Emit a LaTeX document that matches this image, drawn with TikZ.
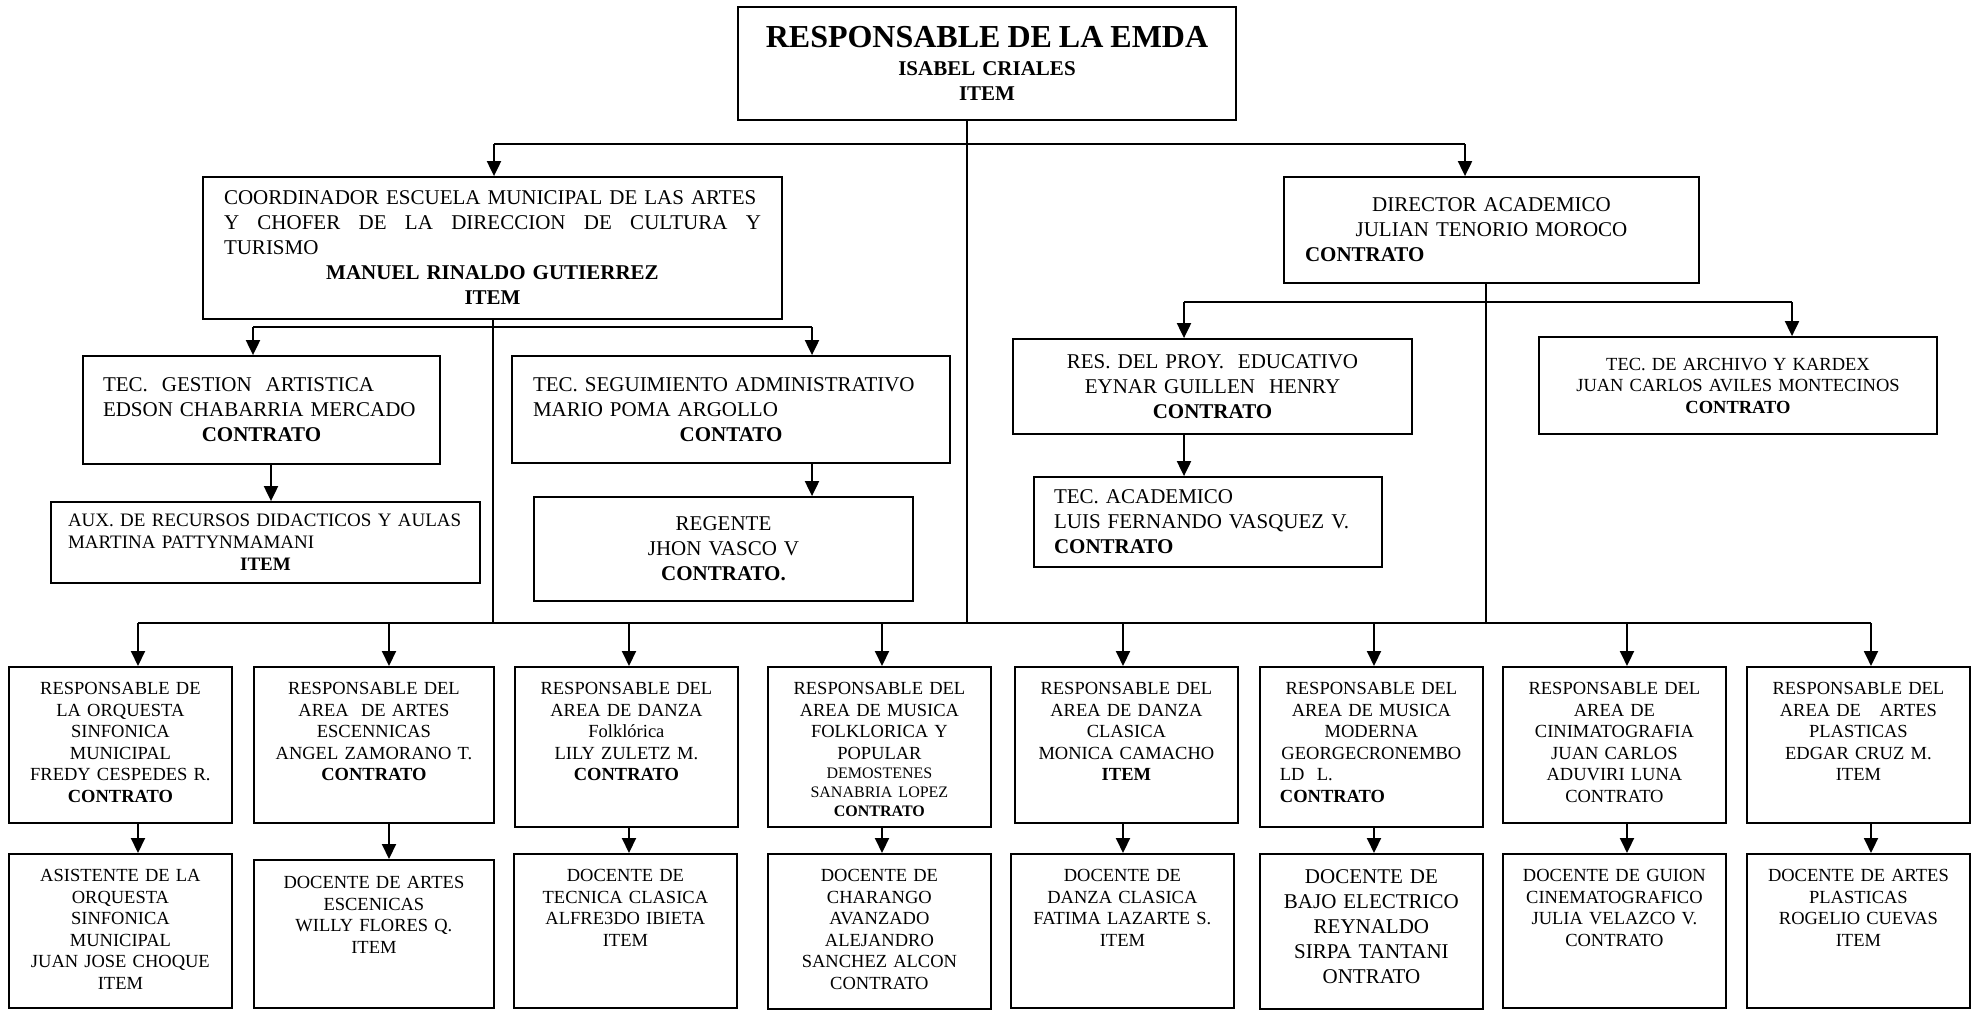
\documentclass[tikz,border=0pt]{standalone}
\usepackage{fontspec}
\setmainfont{Liberation Serif}
\usetikzlibrary{arrows.meta}

\begin{document}
\begin{tikzpicture}[x=1pt, y=-1pt]
    % --- STYLES ---
    \tikzset{
        orgBox/.style={draw, line width=1.8pt, align=center, inner xsep=0pt, inner ysep=0pt, font=\fontsize{21}{25}\selectfont},
        areaBox/.style={draw, line width=1.8pt, anchor=north west, align=center, inner xsep=6pt, inner ysep=0pt, text width=211pt, text height=28pt, text depth=128pt, font=\fontsize{18.5}{21.5}\selectfont},
        teachBox/.style={areaBox, text depth=126pt},
        trunkLine/.style={line width=1.4pt},
        busLine/.style={line width=2pt},
        arrowLine/.style={-{Triangle[width=14pt,length=15pt]}, line width=2pt}
    }
    \useasboundingbox (0,0) rectangle (1980,1010);

    % --- NODES ---

    % Head of the school
    \node[orgBox, text width=480pt, minimum width=498pt, minimum height=113pt, font=\fontsize{21}{25}\selectfont\bfseries] (emda) at (987,63.5) {{\fontsize{32}{36}\selectfont RESPONSABLE DE LA EMDA}\\[3pt] ISABEL CRIALES\\ ITEM};

    % Second level
    \node[orgBox, text width=537pt, minimum width=579pt, minimum height=142pt, align=left] (coord) at (492.5,248) {COORDINADOR ESCUELA MUNICIPAL DE LAS ARTES\\ \makebox[\linewidth][s]{Y\hfill CHOFER\hfill DE\hfill LA\hfill DIRECCION\hfill DE\hfill CULTURA\hfill Y}\\ TURISMO\\ \makebox[\linewidth]{\bfseries MANUEL RINALDO GUTIERREZ}\\ \makebox[\linewidth]{\bfseries ITEM}};
    \node[orgBox, text width=373pt, minimum width=415pt, minimum height=106pt] (dir) at (1491.5,230) {DIRECTOR ACADEMICO\\ JULIAN TENORIO MOROCO\\ \makebox[\linewidth][l]{\bfseries CONTRATO}};

    % Under the coordinator
    \node[orgBox, text width=317pt, minimum width=357pt, minimum height=108pt, align=left] (gest) at (261.5,410) {TEC.\ \ GESTION\ \ ARTISTICA\\ EDSON CHABARRIA MERCADO\\ \makebox[\linewidth]{\bfseries CONTRATO}};
    \node[orgBox, text width=396pt, minimum width=438pt, minimum height=107pt, align=left] (seg) at (731,409.5) {TEC. SEGUIMIENTO ADMINISTRATIVO\\ MARIO POMA ARGOLLO\\ \makebox[\linewidth]{\bfseries CONTATO}};
    \node[orgBox, text width=395pt, minimum width=429pt, minimum height=81pt, align=left, font=\fontsize{19}{22}\selectfont] (aux) at (265.5,542.5) {AUX. DE RECURSOS DIDACTICOS Y AULAS\\ MARTINA PATTYNMAMANI\\ \makebox[\linewidth]{\bfseries ITEM}};
    \node[orgBox, text width=340pt, minimum width=379pt, minimum height=104pt] (reg) at (723.5,549) {REGENTE\\ JHON VASCO V\\ \textbf{CONTRATO.}};

    % Under the academic director
    \node[orgBox, text width=360pt, minimum width=399pt, minimum height=95pt] (proy) at (1212.5,386.5) {RES. DEL PROY.\ \ EDUCATIVO\\ EYNAR GUILLEN\ \ HENRY\\ \textbf{CONTRATO}};
    \node[orgBox, text width=308pt, minimum width=348pt, minimum height=90pt, align=left] (acad) at (1208,522) {TEC. ACADEMICO\\ LUIS FERNANDO VASQUEZ V.\\ \textbf{CONTRATO}};
    \node[orgBox, text width=370pt, minimum width=398pt, minimum height=97pt, font=\fontsize{18.5}{21.5}\selectfont] (arch) at (1738,385.5) {TEC. DE ARCHIVO Y KARDEX\\ JUAN CARLOS AVILES MONTECINOS\\ \textbf{CONTRATO}};

    % Area heads
    \node[areaBox] (r1) at (8,666) {RESPONSABLE DE\\ LA ORQUESTA\\ SINFONICA\\ MUNICIPAL\\ FREDY CESPEDES R.\\ \textbf{CONTRATO}};
    \node[areaBox, text width=228pt] (r2) at (253,666) {RESPONSABLE DEL\\ AREA\ \ DE ARTES\\ ESCENNICAS\\ ANGEL ZAMORANO T.\\ \textbf{CONTRATO}};
    \node[areaBox, text depth=132pt] (r3) at (514,666) {RESPONSABLE DEL\\ AREA DE DANZA\\ Folklórica\\ LILY ZULETZ M.\\ \textbf{CONTRATO}};
    \node[areaBox, text depth=132pt] (r4) at (767,666) {RESPONSABLE DEL\\ AREA DE MUSICA\\ FOLKLORICA Y\\ POPULAR\\[-2.5pt] {\fontsize{16}{19}\selectfont DEMOSTENES}\\[-2.5pt] {\fontsize{16}{19}\selectfont SANABRIA LOPEZ}\\[-2.5pt] {\fontsize{16}{19}\selectfont\bfseries CONTRATO}};
    \node[areaBox] (r5) at (1014,666) {RESPONSABLE DEL\\ AREA DE DANZA\\ CLASICA\\ MONICA CAMACHO\\ \textbf{ITEM}};
    \node[areaBox, text depth=132pt] (r6) at (1259,666) {RESPONSABLE DEL\\ AREA DE MUSICA\\ MODERNA\\ GEORGECRONEMBO\\ \makebox[\linewidth][l]{\hspace{14pt}LD\ \ L.}\\ \makebox[\linewidth][l]{\hspace{14pt}\bfseries CONTRATO}};
    \node[areaBox] (r7) at (1502,666) {RESPONSABLE DEL\\ AREA DE\\ CINIMATOGRAFIA\\ JUAN CARLOS\\ ADUVIRI LUNA\\ CONTRATO};
    \node[areaBox] (r8) at (1746,666) {RESPONSABLE DEL\\ AREA DE\ \ \ ARTES\\ PLASTICAS\\ EDGAR CRUZ M.\\ ITEM};

    % Teachers
    \node[teachBox] (d1) at (8,853) {ASISTENTE DE LA\\ ORQUESTA\\ SINFONICA\\ MUNICIPAL\\ JUAN JOSE CHOQUE\\ ITEM};
    \node[teachBox, text width=228pt, text height=29pt, text depth=119pt] (d2) at (253,859) {DOCENTE DE ARTES\\ ESCENICAS\\ WILLY FLORES Q.\\ ITEM};
    \node[teachBox] (d3) at (513,853) {DOCENTE DE\\ TECNICA CLASICA\\ ALFRE3DO IBIETA\\ ITEM};
    \node[teachBox, text depth=127pt] (d4) at (767,853) {DOCENTE DE\\ CHARANGO\\ AVANZADO\\ ALEJANDRO\\ SANCHEZ ALCON\\ CONTRATO};
    \node[teachBox] (d5) at (1010,853) {DOCENTE DE\\ DANZA CLASICA\\ FATIMA LAZARTE S.\\ ITEM};
    \node[teachBox, text height=30pt, text depth=125pt, font=\fontsize{21}{25}\selectfont] (d6) at (1259,853) {DOCENTE DE\\ BAJO ELECTRICO\\ REYNALDO\\ SIRPA TANTANI\\ ONTRATO};
    \node[teachBox] (d7) at (1502,853) {DOCENTE DE GUION\\ CINEMATOGRAFICO\\ JULIA VELAZCO V.\\ CONTRATO};
    \node[teachBox] (d8) at (1746,853) {DOCENTE DE ARTES\\ PLASTICAS\\ ROGELIO CUEVAS\\ ITEM};

    % --- JUNCTIONS ---
    \coordinate (tl) at (494,144);
    \coordinate (tr) at (1465,144);
    \coordinate (sl) at (253,327);
    \coordinate (sr) at (812,327);
    \coordinate (dl) at (1184,302);
    \coordinate (dr) at (1792,302);
    \coordinate (t0) at (967,623);
    \coordinate (t1) at (493,623);
    \coordinate (t2) at (1486,623);
    \coordinate (c1) at (138,623);
    \coordinate (c2) at (389,623);
    \coordinate (c3) at (629,623);
    \coordinate (c4) at (882,623);
    \coordinate (c5) at (1123,623);
    \coordinate (c6) at (1374,623);
    \coordinate (c7) at (1627,623);
    \coordinate (c8) at (1871,623);

    % --- LINES ---

    % Trunks down to the bottom bus
    \draw[trunkLine] (t0 |- emda.south) -- (t0);
    \draw[trunkLine] (t1 |- coord.south) -- (t1);
    \draw[trunkLine] (t2 |- dir.south) -- (t2);

    % Buses
    \draw[busLine] (tl) -- (tr);
    \draw[busLine] (sl) -- (sr);
    \draw[busLine] (dl) -- (dr);
    \draw[busLine] (c1) -- (c8);

    % Upper arrows
    \draw[arrowLine] (tl) -- (tl |- coord.north);
    \draw[arrowLine] (tr) -- (tr |- dir.north);
    \draw[arrowLine] (sl) -- (sl |- gest.north);
    \draw[arrowLine] (sr) -- (sr |- seg.north);
    \draw[arrowLine] (dl) -- (dl |- proy.north);
    \draw[arrowLine] (dr) -- (dr |- arch.north);
    \draw[arrowLine] ([xshift=9.5pt]gest.south) -- ([xshift=9.5pt]gest.south |- aux.north);
    \draw[arrowLine] (sr |- seg.south) -- (sr |- reg.north);
    \draw[arrowLine] (dl |- proy.south) -- (dl |- acad.north);

    % Area heads
    \draw[arrowLine] (c1) -- (c1 |- r1.north);
    \draw[arrowLine] (c2) -- (c2 |- r2.north);
    \draw[arrowLine] (c3) -- (c3 |- r3.north);
    \draw[arrowLine] (c4) -- (c4 |- r4.north);
    \draw[arrowLine] (c5) -- (c5 |- r5.north);
    \draw[arrowLine] (c6) -- (c6 |- r6.north);
    \draw[arrowLine] (c7) -- (c7 |- r7.north);
    \draw[arrowLine] (c8) -- (c8 |- r8.north);

    % Teachers
    \draw[arrowLine] (c1 |- r1.south) -- (c1 |- d1.north);
    \draw[arrowLine] (c2 |- r2.south) -- (c2 |- d2.north);
    \draw[arrowLine] (c3 |- r3.south) -- (c3 |- d3.north);
    \draw[arrowLine] (c4 |- r4.south) -- (c4 |- d4.north);
    \draw[arrowLine] (c5 |- r5.south) -- (c5 |- d5.north);
    \draw[arrowLine] (c6 |- r6.south) -- (c6 |- d6.north);
    \draw[arrowLine] (c7 |- r7.south) -- (c7 |- d7.north);
    \draw[arrowLine] (c8 |- r8.south) -- (c8 |- d8.north);

\end{tikzpicture}
\end{document}
